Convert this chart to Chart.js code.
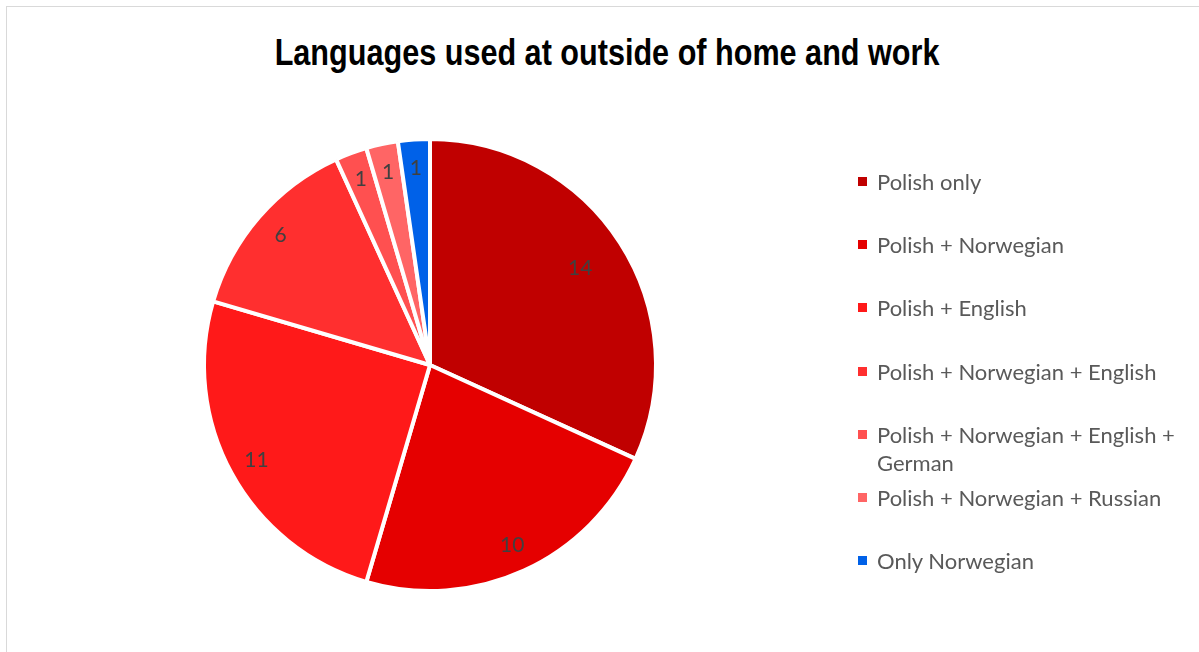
<!DOCTYPE html>
<html>
<head>
<meta charset="utf-8">
<script src="https://cdn.jsdelivr.net/npm/chart.js@4"></script>
<style>
  html, body { margin: 0; padding: 0; background: #fff; }
  #frame {
    position: absolute; left: 6px; top: 6px; width: 1300px; height: 800px;
    border-top: 1px solid #d9d9d9; border-left: 1px solid #d9d9d9;
  }
  #title {
    position: absolute; left: 0; top: 32px; width: 1214px; text-align: center;
    font-family: "Liberation Sans Narrow", "Arial Narrow", "Liberation Sans", sans-serif;
    font-weight: bold; font-size: 36px; color: #000;
  }
  #title span { display: inline-block; transform: scaleX(0.85); transform-origin: center; }
  #myChart { position: absolute; left: 0; top: 0; }
  #legend {
    position: absolute; left: 858px; top: 0;
    font-family: Lato, "Open Sans", sans-serif; font-size: 22px; color: #595959;
  }
  .item { position: absolute; left: 0; width: 325px; line-height: 28px; }
  .item .box { position: absolute; left: 0; top: 9px; width: 9px; height: 9px; }
  .item .txt { margin-left: 19px; display: block; }
</style>
</head>
<body>
<div id="frame"></div>
<div id="title"><span>Languages used at outside of home and work</span></div>
<canvas id="myChart" width="1199" height="652"></canvas>
<div id="legend"></div>

<script>
// languages people use outside home and work (number of answers)
let labels = [
  'Polish only',
  'Polish + Norwegian',
  'Polish + English',
  'Polish + Norwegian + English',
  'Polish + Norwegian + English + German',
  'Polish + Norwegian + Russian',
  'Only Norwegian'
];
let counts = [14, 10, 11, 6, 1, 1, 1];
let colors = ['#c00000', '#e50000', '#ff1919', '#ff2f2f', '#ff5050', '#ff6565', '#0061e8'];

// draws the count inside each slice, near the rim
const sliceLabels = {
  id: 'sliceLabels',
  afterDatasetsDraw(chart, args, opts) {
    const ctx = chart.ctx;
    const meta = chart.getDatasetMeta(0);
    ctx.save();
    ctx.font = opts.font;
    ctx.fillStyle = opts.color;
    ctx.textAlign = 'center';
    ctx.textBaseline = 'middle';
    meta.data.forEach(function(arc, i) {
      const p = arc.getProps(['x', 'y', 'startAngle', 'endAngle', 'outerRadius'], true);
      const mid = (p.startAngle + p.endAngle) / 2;
      const r = p.outerRadius * (opts.radius[i] || opts.radius.default);
      ctx.fillText(chart.data.datasets[0].data[i], p.x + Math.cos(mid) * r, p.y + Math.sin(mid) * r);
    });
    ctx.restore();
  }
};

const myChart = new Chart(document.getElementById('myChart'), {
  type: 'pie',
  data: {
    labels: labels,
    datasets: [{
      data: counts,
      backgroundColor: colors,
      borderColor: '#ffffff',
      borderWidth: 4
    }]
  },
  options: {
    responsive: false,
    animation: false,
    layout: { padding: { left: 202, right: 541, top: 137, bottom: 59 } },
    plugins: {
      legend: { display: false },
      tooltip: { enabled: false },
      sliceLabels: {
        font: '21px Lato, "Open Sans", sans-serif',
        color: '#404040',
        radius: { 0: 0.79, default: 0.875 }
      }
    }
  },
  plugins: [sliceLabels]
});

// legend built from the chart's own labels and colours
let legend = document.getElementById('legend');
let ds = myChart.data.datasets[0];
myChart.data.labels.forEach(function(label, i) {
  let item = document.createElement('div');
  item.className = 'item';
  item.style.top = (168 + i * 63.2) + 'px';
  item.innerHTML = '<span class="box" style="background:' + ds.backgroundColor[i] + '"></span>' +
    '<span class="txt">' + label + '</span>';
  legend.appendChild(item);
});
</script>
</body>
</html>
